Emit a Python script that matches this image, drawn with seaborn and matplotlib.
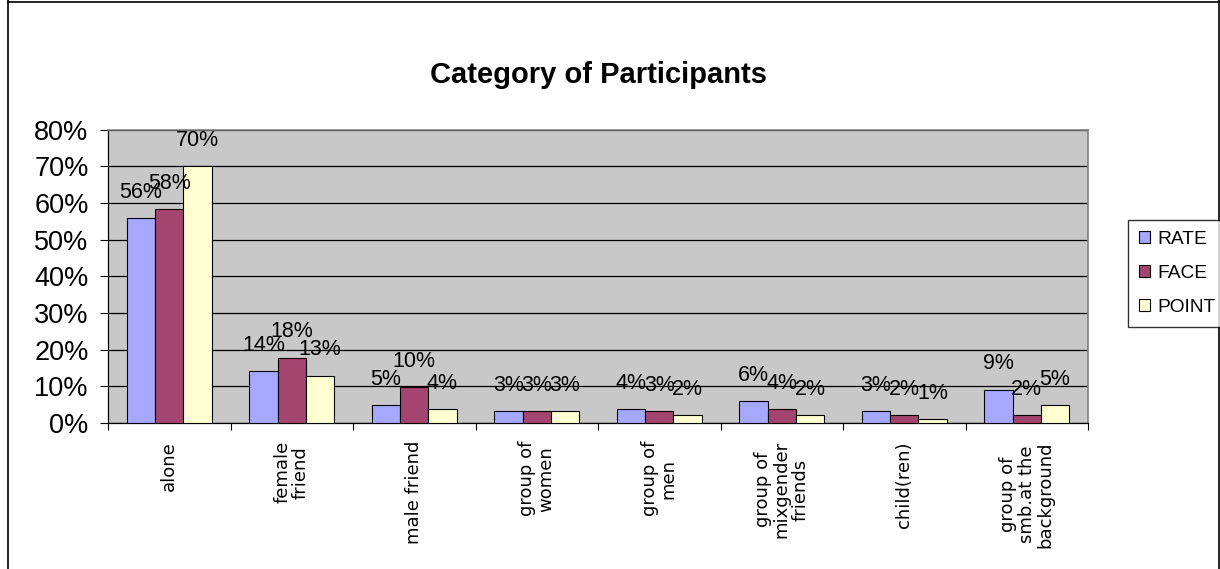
import matplotlib.pyplot as plt
import matplotlib.lines as mlines
import pandas as pd
import seaborn as sns

# values (percent)
categories = [
    "alone",
    "female\nfriend",
    "male friend",
    "group of\nwomen",
    "group of\nmen",
    "group of\nmixgender\nfriends",
    "child(ren)",
    "group of\nsmb.at the\nbackground",
]
rate = [55.9, 14.1, 4.8, 3.2, 3.7, 5.9, 3.2, 9.1]
face = [58.2, 17.8, 9.7, 3.2, 3.2, 3.7, 2.1, 2.1]
point = [70.0, 12.9, 3.7, 3.2, 2.1, 2.1, 1.0, 4.8]
series = ["RATE", "FACE", "POINT"]
colors = ["#A6A8FF", "#A4456F", "#FFFFD2"]
y_ticks = [0, 10, 20, 30, 40, 50, 60, 70, 80]

df = pd.DataFrame({
    "category": categories * 3,
    "series": [s for s in series for _ in categories],
    "value": rate + face + point,
})

sns.set_theme(style="white")
plt.rcParams["font.family"] = ["Liberation Sans", "DejaVu Sans"]
plt.rcParams["text.color"] = "black"
plt.rcParams["xtick.color"] = "black"
plt.rcParams["ytick.color"] = "black"

fig = plt.figure(figsize=(12.2, 5.69), dpi=100)
ax = fig.add_axes([108 / 1220, 1 - 423 / 569, 980 / 1220, 293.5 / 569])
ax.set_facecolor("#C8C8C8")

sns.barplot(
    data=df, x="category", y="value", hue="series", hue_order=series,
    order=categories, palette=dict(zip(series, colors)), width=0.69,
    edgecolor="black", linewidth=0.8, saturation=1, ax=ax, zorder=3,
)

# data labels above every bar
for cont in ax.containers:
    vals = [b.get_height() for b in cont]
    ax.bar_label(cont, labels=[f"{round(v)}%" for v in vals],
                 padding=11, fontsize=15.5, color="black")

ax.set_ylim(0, 80)
ax.set_yticks(y_ticks)
ax.set_yticklabels([f"{t}%" for t in y_ticks], fontsize=19.5)
ax.yaxis.grid(True, color="black", linewidth=0.9, zorder=1)
ax.set_axisbelow(True)
ax.set_xlabel("")
ax.set_ylabel("")

# category labels rotated, ticks sit between groups
ax.set_xticks(range(len(categories)))
ax.set_xticklabels(categories, rotation=90, ha="center", va="top",
                   multialignment="center", fontsize=13,
                   family="DejaVu Sans", linespacing=1.05)
ax.tick_params(axis="x", which="major", length=0, pad=13)
ax.set_xticks([i - 0.5 for i in range(len(categories) + 1)], minor=True)
ax.tick_params(axis="x", which="minor", length=5, width=0.8,
               color="black", direction="out", bottom=True)
ax.tick_params(axis="y", length=6, width=0.8, color="black",
               direction="out", left=True, pad=8)
ax.set_xlim(-0.5, len(categories) - 0.5)

for side in ["left", "bottom"]:
    ax.spines[side].set_color("black")
    ax.spines[side].set_linewidth(0.9)
for side in ["top", "right"]:
    ax.spines[side].set_color("#808080")
    ax.spines[side].set_linewidth(1.2)

handles, labels = ax.get_legend_handles_labels()
ax.get_legend().remove()
leg = fig.legend(
    handles, labels, loc="upper left",
    bbox_to_anchor=(1128 / 1220, 1 - 220 / 569), borderaxespad=0,
    fontsize=13.8, frameon=True, fancybox=False, edgecolor="black",
    handlelength=0.6, handleheight=0.6, handletextpad=0.4,
    labelspacing=0.9, borderpad=0.55,
)
leg.get_frame().set_linewidth(1.0)

fig.text(598 / 1220, 1 - 75 / 569, "Category of Participants",
         ha="center", va="center", fontsize=21, fontweight="bold")

# outer chart border
for xs, ys in [([8, 8], [0, 569]), ([8, 1219], [1.5, 1.5]), ([1219, 1219], [0, 569])]:
    fig.add_artist(mlines.Line2D([x / 1220 for x in xs], [1 - y / 569 for y in ys],
                                 color="black", linewidth=1.2))

fig.savefig("out.png", dpi=100)
